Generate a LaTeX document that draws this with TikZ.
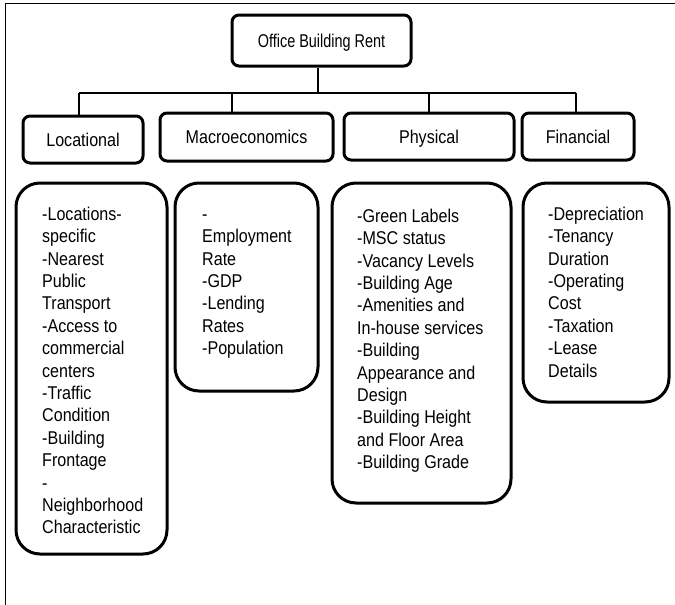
\documentclass[tikz,border=0pt]{standalone}
\usepackage{fontspec}
\setmainfont{Liberation Sans}[FakeStretch=0.87]
\newfontfamily\titlefont{Liberation Sans}[FakeStretch=0.78]
\begin{document}
\begin{tikzpicture}[x=1pt,y=-1pt,
  frameline/.style={line width=1pt},
  conn/.style={line width=1.2pt},
  headbox/.style={draw, line width=3pt, rounded corners=7pt, inner sep=0pt,
    text height=13.3pt, text depth=0pt, font=\fontsize{18.5}{22.4}\selectfont},
  listbox/.style={draw, line width=3pt, rounded corners=24pt, inner sep=0pt},
  listtext/.style={anchor=north west, align=left, inner sep=0pt,
    font=\fontsize{18.5}{22.4}\selectfont}]
\useasboundingbox (0,0) rectangle (675,605);
% frame
\draw[frameline] (5,605) -- (5,3) -- (675,3);
% title
\node[headbox, font=\titlefont\fontsize{18.5}{22.4}\selectfont,
  minimum width=179pt, minimum height=51pt] (title) at (321.5,40.5) {Office Building Rent};
% headers
\node[headbox, minimum width=120pt, minimum height=47pt] (loc) at (83,139.5) {Locational};
\node[headbox, minimum width=173pt, minimum height=48pt] (mac) at (246.5,137) {Macroeconomics};
\node[headbox, minimum width=170pt, minimum height=47pt] (phy) at (429,136.5) {Physical};
\node[headbox, minimum width=112pt, minimum height=47pt] (fin) at (578,136.5) {Financial};
% bus
\coordinate (b1) at (79,93);
\coordinate (b2) at (232,93);
\coordinate (b3) at (429,93);
\coordinate (b4) at (576,93);
\draw[conn] ([xshift=-3.5pt]title.south) -- ([xshift=-3.5pt]title.south |- b1);
\draw[conn] (b1) -- (b4);
\draw[conn] (b1) -- (b1 |- loc.north);
\draw[conn] (b2) -- (b2 |- mac.north);
\draw[conn] (b3) -- (b3 |- phy.north);
\draw[conn] (b4) -- (b4 |- fin.north);
% lists
\node[listbox, minimum width=151pt, minimum height=371pt] (locl) at (91.5,368.5) {};
\node[listbox, minimum width=143pt, minimum height=208pt] (macl) at (246.5,287) {};
\node[listbox, minimum width=179pt, minimum height=320pt] (phyl) at (421.5,343) {};
\node[listbox, minimum width=146pt, minimum height=219pt] (finl) at (596,292.5) {};
\node[listtext] (loct) at (42,206) {\rule{0pt}{14pt}-Locations-\\specific\\-Nearest\\Public\\Transport\\-Access to\\commercial\\centers\\-Traffic\\Condition\\-Building\\Frontage\\-\\Neighborhood\\Characteristic};
\node[listtext] (mact) at (202,206) {\rule{0pt}{14pt}-\\Employment\\Rate\\-GDP\\-Lending\\Rates\\-Population};
\node[listtext] (phyt) at (357,208) {\rule{0pt}{14pt}-Green Labels\\-MSC status\\-Vacancy Levels\\-Building Age\\-Amenities and\\In-house services\\-Building\\Appearance and\\Design\\-Building Height\\and Floor Area\\-Building Grade};
\node[listtext] (fint) at (548,206) {\rule{0pt}{14pt}-Depreciation\\-Tenancy\\Duration\\-Operating\\Cost\\-Taxation\\-Lease\\Details};
\end{tikzpicture}
\end{document}
